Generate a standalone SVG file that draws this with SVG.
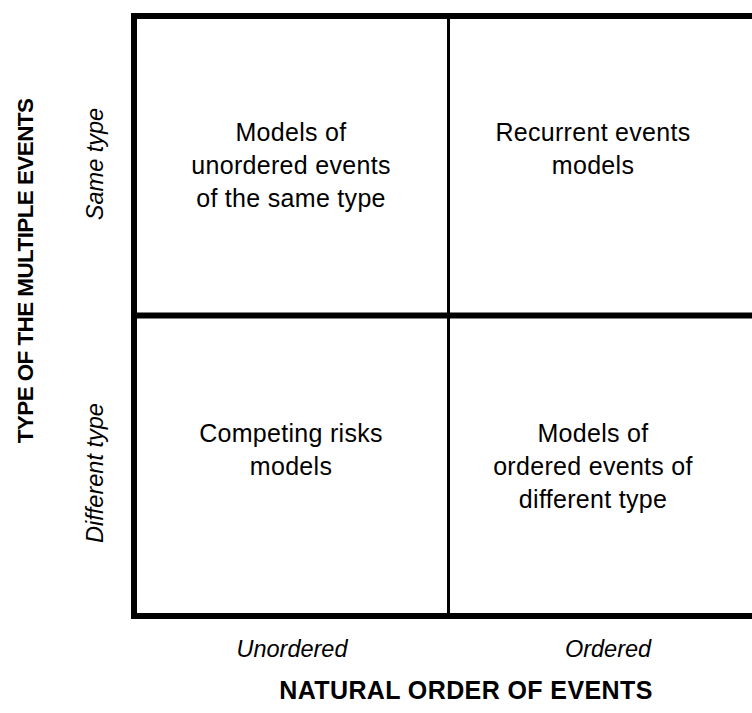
<svg xmlns="http://www.w3.org/2000/svg" width="752" height="713" viewBox="0 0 752 713">
  <style>
    .cell { font-family: "Liberation Sans", Arial, sans-serif; font-size: 25px; letter-spacing: 0.3px; fill: #000; text-anchor: middle; }
    .axis { font-family: "Liberation Sans", Arial, sans-serif; font-size: 23.5px; font-style: italic; fill: #000; text-anchor: middle; }
    .title { font-family: "Liberation Sans", Arial, sans-serif; font-weight: bold; fill: #000; text-anchor: middle; }
    .frame { fill: none; stroke: #000; stroke-width: 6; }
    .divider { stroke: #000; }
  </style>
  <rect width="752" height="713" fill="#fff"/>

  <!-- 2x2 grid -->
  <g id="grid">
    <rect class="frame" x="134" y="16" width="640" height="600"/>
    <line class="divider" x1="448.5" y1="16" x2="448.5" y2="616" stroke-width="3"/>
    <line class="divider" x1="134" y1="315.5" x2="752" y2="315.5" stroke-width="6"/>
  </g>

  <g id="cell-unordered-same">
    <text class="cell" x="291" y="141">Models of</text>
    <text class="cell" x="291" y="174">unordered events</text>
    <text class="cell" x="291" y="207">of the same type</text>
  </g>
  <g id="cell-ordered-same">
    <text class="cell" x="593" y="141">Recurrent events</text>
    <text class="cell" x="593" y="174">models</text>
  </g>
  <g id="cell-unordered-different">
    <text class="cell" x="291" y="442">Competing risks</text>
    <text class="cell" x="291" y="475">models</text>
  </g>
  <g id="cell-ordered-different">
    <text class="cell" x="593" y="442">Models of</text>
    <text class="cell" x="593" y="475">ordered events of</text>
    <text class="cell" x="593" y="508">different type</text>
  </g>

  <!-- vertical axis -->
  <g id="axis-y">
    <text class="title" font-size="22.5" letter-spacing="-0.6" transform="translate(33,271) rotate(-90)">TYPE OF THE MULTIPLE EVENTS</text>
    <text class="axis" transform="translate(103,164) rotate(-90)">Same type</text>
    <text class="axis" transform="translate(103,473) rotate(-90)">Different type</text>
  </g>

  <!-- horizontal axis -->
  <g id="axis-x">
    <text class="axis" font-size="24.5" x="292" y="657">Unordered</text>
    <text class="axis" font-size="24.5" x="608" y="657">Ordered</text>
    <text class="title" font-size="25" letter-spacing="0.4" x="466" y="699">NATURAL ORDER OF EVENTS</text>
  </g>
</svg>
